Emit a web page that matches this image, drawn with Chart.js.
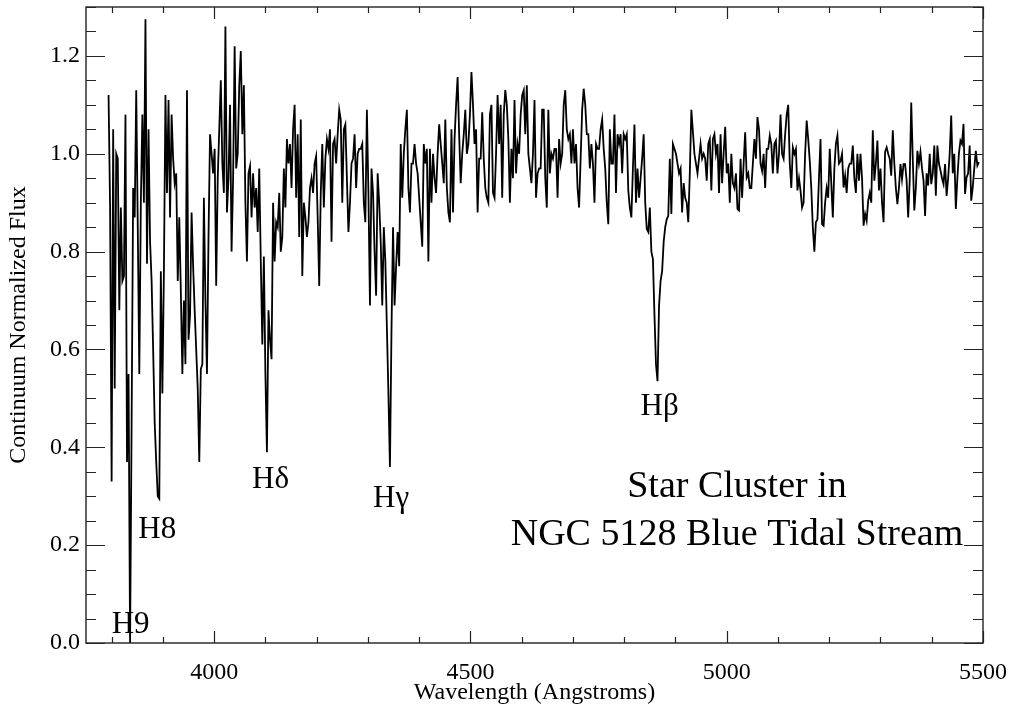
<!DOCTYPE html>
<html>
<head>
<meta charset="utf-8">
<script src="https://cdn.jsdelivr.net/npm/chart.js@4/dist/chart.umd.min.js"></script>
<style>
body{margin:0;background:#fff}
#wrap{width:1014px;height:710px}
</style>
</head>
<body>
<div id="wrap"><canvas id="spec" width="1014" height="710"></canvas></div>
<script>
// extracted spectrum, continuum normalized; dispersion grid of the reduced frame
const waveStart=3794
const waveStep=3
const fluxValues=[
1.12,0.89,0.33,1.05,0.52,1.00,0.99,0.68,0.89,0.74,
0.75,1.08,0.37,0.55,0.00,0.45,0.93,0.87,1.13,0.85,
0.55,0.90,1.08,0.90,1.275,0.775,1.05,0.82,0.74,0.60,
0.45,0.37,0.30,0.295,0.76,0.51,0.76,1.12,0.92,1.11,
0.87,1.08,0.99,0.94,0.96,0.74,0.87,0.72,0.55,0.70,
0.57,1.13,0.62,0.67,0.88,0.77,0.68,0.60,0.52,0.37,
0.56,0.57,0.91,0.70,0.55,0.83,1.04,1.00,0.96,1.01,
0.73,0.95,1.05,1.15,0.98,0.92,1.26,0.88,0.95,1.10,
0.80,0.95,1.22,0.97,1.00,1.14,1.21,1.04,1.14,0.90,
0.78,0.96,0.975,0.87,0.96,0.89,0.93,0.84,0.97,0.78,
0.61,0.79,0.55,0.39,0.68,0.62,0.58,0.90,0.78,0.86,
0.85,0.92,0.80,0.83,0.97,0.89,1.03,0.98,1.02,0.93,
1.05,1.10,0.91,1.04,0.83,1.07,0.75,0.90,0.87,0.83,
0.86,0.93,0.95,0.92,0.98,0.995,0.87,0.73,0.92,1.02,
0.89,0.99,1.03,1.01,1.05,0.82,1.02,1.03,0.98,1.04,
1.09,1.07,0.90,1.05,1.06,0.95,0.84,0.90,0.98,0.99,
1.04,0.93,1.00,1.01,1.01,1.02,0.90,0.86,1.09,0.92,
0.69,0.97,0.92,0.80,0.71,0.96,0.90,0.82,0.69,0.85,
0.78,0.645,0.51,0.36,0.64,0.85,0.69,0.77,0.84,0.77,
1.02,0.91,1.00,1.05,1.09,0.93,0.88,0.98,0.98,1.02,
0.98,0.96,0.91,0.86,0.81,1.02,0.98,1.01,0.78,1.01,
0.90,1.00,0.95,0.92,1.00,1.06,1.02,0.98,0.94,1.07,
0.93,0.88,0.86,1.05,0.88,1.03,1.10,1.157,1.04,0.94,
1.00,1.04,1.09,1.00,1.02,1.08,1.167,1.10,1.02,1.05,
0.88,0.99,0.99,1.085,0.99,0.93,0.91,0.90,1.08,1.10,
0.92,0.91,1.00,1.12,1.02,1.10,0.91,1.08,1.13,1.10,
1.03,0.90,1.01,0.95,1.11,0.96,1.02,1.00,1.08,1.12,
1.13,1.04,1.14,1.00,0.97,0.94,1.00,1.11,0.91,0.96,
0.97,0.97,1.09,1.09,0.95,0.89,1.09,0.96,1.00,0.99,
1.01,1.01,0.91,1.03,0.98,1.00,1.10,1.13,1.05,1.03,
1.04,0.98,1.05,0.98,1.02,0.93,0.89,0.99,1.09,1.133,
1.10,1.04,1.04,0.97,1.02,0.98,0.90,1.02,1.01,1.01,
1.05,1.07,1.01,0.97,0.90,0.856,1.05,0.98,0.98,1.08,
0.92,1.04,1.02,1.04,0.96,1.04,1.03,1.04,0.925,0.89,
0.87,0.97,1.06,0.90,0.97,0.91,0.95,0.99,1.04,0.90,
0.846,0.84,0.89,0.80,0.785,0.672,0.57,0.535,0.69,0.74,
0.76,0.82,0.85,0.866,0.873,0.99,0.877,1.02,1.01,1.00,
0.98,0.96,0.97,0.88,0.94,0.91,0.90,0.86,0.96,1.09,
1.046,1.00,0.98,0.96,0.99,1.02,0.99,1.00,0.99,0.945,
1.02,1.03,0.925,1.03,1.04,1.00,1.02,0.92,1.04,0.94,
1.00,1.055,0.96,0.98,0.90,1.00,0.94,0.93,0.96,0.887,
0.884,0.99,0.91,0.98,1.044,0.952,0.96,0.93,0.93,0.98,
1.03,0.99,1.075,1.05,0.98,0.965,1.00,0.93,1.01,1.01,
1.037,1.02,0.96,1.02,1.027,0.96,1.00,1.08,1.00,0.99,
1.04,1.08,1.10,0.98,0.93,1.013,1.00,1.01,0.925,0.95,
0.925,0.89,0.90,1.00,1.068,1.03,0.986,0.93,0.85,0.80,
0.86,0.866,0.95,1.03,0.856,0.853,0.90,0.93,0.91,1.01,
0.94,0.87,0.97,1.02,1.037,0.98,0.985,1.00,0.931,0.955,
0.92,0.97,0.98,0.98,1.017,0.95,0.92,1.00,0.945,1.00,
0.95,0.853,0.877,0.863,0.904,0.92,0.90,1.048,0.945,0.98,
1.027,0.925,0.97,0.90,0.86,1.004,1.013,1.00,0.99,0.955,
1.048,0.98,0.93,0.897,0.93,0.979,0.948,0.979,0.979,0.945,
0.87,0.945,1.105,0.99,0.884,0.93,1.006,0.98,1.004,0.97,
0.945,0.873,0.96,0.935,1.00,0.938,0.96,1.017,0.914,1.017,
0.98,0.966,0.95,0.938,0.979,0.914,0.95,1.00,1.078,0.96,
1.00,0.887,0.95,1.00,1.027,1.02,1.061,0.918,0.952,0.96,
1.017,0.904,0.931,0.97,1.006,0.976,0.983
]

const xTicks=[4000,4500,5000,5500]
const yTicks=[0.0,0.2,0.4,0.6,0.8,1.0,1.2]

// balmer line ids: label, wavelength of left edge, flux of baseline
const lineIds=["H9","H8","Hδ","Hγ","Hβ"]
const lineIdWave=[3800,3852,4074,4310,4832]
const lineIdFlux=[0.02,0.215,0.317,0.278,0.466]

const noteLines=["Star Cluster in","NGC 5128 Blue Tidal Stream"]
const noteWave=5020
const noteFlux=[0.298,0.200]

const points=fluxValues.map((f,i)=>({x:waveStart+i*waveStep,y:f}))

const serif="'Liberation Serif','Times New Roman',serif"

// IDL style box: frame with inward ticks on all four sides, plus line ids
const boxPlugin={
id:"boxPlugin",
afterDatasetsDraw(chart){

const {ctx,chartArea:a,scales:{x,y}}=chart
ctx.save()
ctx.strokeStyle="#222"
ctx.lineWidth=1.4
ctx.strokeRect(a.left,a.top,a.right-a.left,a.bottom-a.top)

ctx.beginPath()
for(let v=3800;v<=5500;v+=100){
let px=Math.round(x.getPixelForValue(v))+0.5
let len=v%500===0?12:6
ctx.moveTo(px,a.bottom);ctx.lineTo(px,a.bottom-len)
ctx.moveTo(px,a.top);ctx.lineTo(px,a.top+len)
}
for(let k=0;k<=26;k++){
let py=Math.round(y.getPixelForValue(k*0.05))+0.5
let len=k%4===0?19:10
ctx.moveTo(a.left,py);ctx.lineTo(a.left+len,py)
ctx.moveTo(a.right,py);ctx.lineTo(a.right-len,py)
}
ctx.lineWidth=1.2
ctx.stroke()

ctx.fillStyle="#000"
ctx.textBaseline="alphabetic"
ctx.textAlign="left"
ctx.font="31px "+serif
lineIds.forEach((t,i)=>{
ctx.fillText(t,x.getPixelForValue(lineIdWave[i]),y.getPixelForValue(lineIdFlux[i]))
})

ctx.textAlign="center"
ctx.font="38px "+serif
noteLines.forEach((t,i)=>{
ctx.fillText(t,x.getPixelForValue(noteWave),y.getPixelForValue(noteFlux[i]))
})
ctx.restore()

}
}

new Chart(document.getElementById("spec"),{
type:"line",
data:{
datasets:[{
data:points,
borderColor:"#000",
borderWidth:1.8,
pointRadius:0,
tension:0,
fill:false
}]
},
options:{
responsive:false,
animation:false,
events:[],
layout:{padding:{top:7,right:31,left:0,bottom:0}},
plugins:{legend:{display:false},tooltip:{enabled:false}},
scales:{
x:{
type:"linear",
min:3750,
max:5500,
grid:{display:false,drawTicks:false},
border:{display:false},
afterBuildTicks:s=>{s.ticks=xTicks.map(v=>({value:v}))},
afterFit:s=>{s.height=67;s.paddingLeft=0;s.paddingRight=0},
ticks:{
autoSkip:false,
maxRotation:0,
padding:15,
color:"#000",
font:{family:serif,size:24},
callback:v=>String(v)
},
title:{
display:true,
text:"Wavelength (Angstroms)",
color:"#000",
font:{family:serif,size:24},
padding:{top:0,bottom:3}
}
},
y:{
min:0,
max:1.3,
grid:{display:false,drawTicks:false},
border:{display:false},
afterBuildTicks:s=>{s.ticks=yTicks.map(v=>({value:v}))},
afterFit:s=>{s.width=86;s.paddingTop=0;s.paddingBottom=0},
ticks:{
padding:6,
color:"#000",
font:{family:serif,size:24},
callback:v=>v.toFixed(1)
},
title:{
display:true,
text:"Continuum Normalized Flux",
color:"#000",
font:{family:serif,size:24},
padding:{top:4,bottom:0}
}
}
}
},
plugins:[boxPlugin]
})
</script>
</body>
</html>
